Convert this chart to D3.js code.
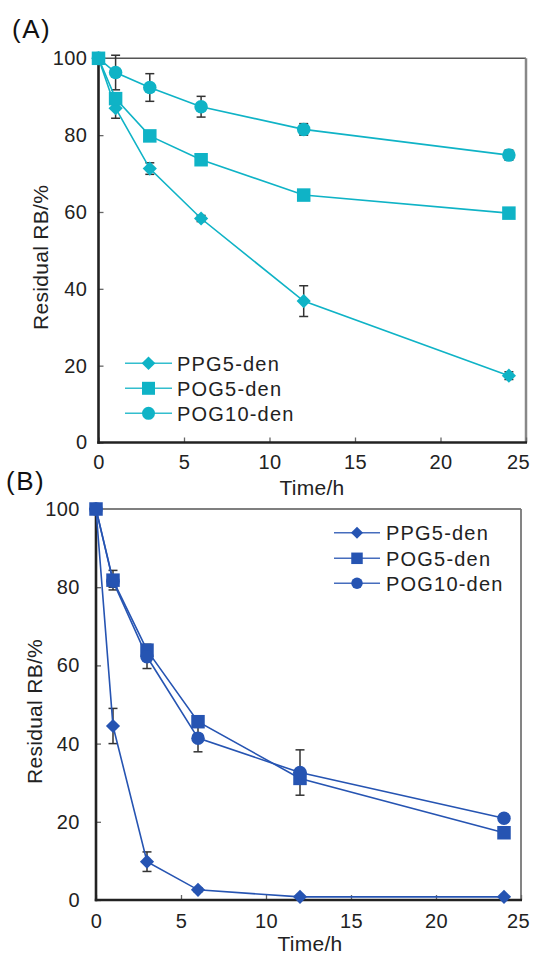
<!DOCTYPE html>
<html>
<head>
<meta charset="utf-8">
<script src="https://cdn.jsdelivr.net/npm/d3@7"></script>
<style>
  body { margin: 0; background: #fff; }
  svg { display: block; }
  text { font-family: "Liberation Sans", Arial, sans-serif; }
</style>
</head>
<body>
<div id="chart"></div>
<script>
// sampling times and labels
const hours = [0, 1, 3, 6, 12, 24];
const seriesNames = ['PPG5-den', 'POG5-den', 'POG10-den'];
const xTicks = [0, 5, 10, 15, 20, 25];
const yTicks = [0, 20, 40, 60, 80, 100];
const xTitle = 'Time/h';
const yTitle = 'Residual RB/%';

// panel (A) residual RB and error
const ppg5A = [100, 87, 71.3, 58.3, 36.8, 17.4];
const ppg5AErr = [0, 2.6, 1.5, 0.8, 4, 1];
const pog5A = [100, 89.5, 79.8, 73.6, 64.4, 59.7];
const pog5AErr = [0, 1.5, 0.8, 0.8, 0.8, 0.8];
const pog10A = [100, 96.3, 92.4, 87.4, 81.5, 74.8];
const pog10AErr = [0, 4.5, 3.6, 2.7, 1.5, 1.3];

// panel (B)
const ppg5B = [100, 44.5, 9.8, 2.6, 0.8, 0.8];
const ppg5BErr = [0, 4.5, 2.5, 0.5, 0.3, 0.3];
const pog5B = [100, 81.8, 63.9, 45.6, 31.1, 17.2];
const pog5BErr = [0, 2.5, 1.5, 1, 1.5, 1];
const pog10B = [100, 81.5, 62.2, 41.4, 32.6, 20.9];
const pog10BErr = [0, 1.5, 3, 3.5, 5.8, 1];

const shapes = ['diamond', 'square', 'circle'];

const panels = [
  {
    tag: '(A)', tagX: 12, tagY: 38,
    values: [ppg5A, pog5A, pog10A],
    errors: [ppg5AErr, pog5AErr, pog10AErr],
    color: '#0fb3c6',
    x: [98.5, 526], y: [442.5, 58.3],
    yPad: 11, xPad: 12.3, lastTickX: 518,
    yTitleX: 47.5, xTitleY: 495, xTitleX: 312,
    rightColor: '#888', rightWidth: 2.5,
    legend: { x0: 125, x1: 172, tx: 177, ys: [363.3, 388.3, 413.3], size: 13 },
    mk: 13.5
  },
  {
    tag: '(B)', tagX: 6, tagY: 490,
    values: [ppg5B, pog5B, pog10B],
    errors: [ppg5BErr, pog5BErr, pog10BErr],
    color: '#2654b2',
    x: [96, 521], y: [900, 509],
    yPad: 16, xPad: 13.8, lastTickX: 518,
    yTitleX: 41.5, xTitleY: 951, xTitleX: 310,
    rightColor: '#777', rightWidth: 1.8,
    legend: { x0: 334, x1: 380, tx: 386, ys: [532.7, 558.3, 583.3], size: 11.5 },
    mk: 13.5
  }
];

const width = 533;
const height = 954;

const svg = d3.select('#chart')
  .append('svg')
  .attr('width', width)
  .attr('height', height);

svg.append('rect').attr('width', width).attr('height', height).attr('fill', '#fff');

function marker(g, shape, cx, cy, size, color) {
  let path;
  if (shape === 'square') {
    path = d3.symbol(d3.symbolSquare, size * size)();
  } else if (shape === 'circle') {
    path = d3.symbol(d3.symbolCircle, Math.PI * (size / 2) * (size / 2))();
  } else {
    // rotated square
    const s = size / Math.SQRT2 * 1.05;
    path = d3.symbol(d3.symbolSquare, s * s)();
  }
  g.append('path')
    .attr('d', path)
    .attr('transform', `translate(${cx},${cy})` + (shape === 'diamond' ? ' rotate(45)' : ''))
    .attr('fill', color);
}

panels.forEach((p) => {
  const xScale = d3.scaleLinear().domain([0, 25]).range(p.x);
  const yScale = d3.scaleLinear().domain([0, 100]).range(p.y);
  const g = svg.append('g');

  // frame: top and right gray, left and bottom dark
  g.append('line')
    .attr('x1', xScale(0)).attr('x2', xScale(25))
    .attr('y1', yScale(100)).attr('y2', yScale(100))
    .attr('stroke', '#555').attr('stroke-width', 1.6);
  g.append('line')
    .attr('x1', xScale(25)).attr('x2', xScale(25))
    .attr('y1', yScale(100)).attr('y2', yScale(0))
    .attr('stroke', p.rightColor).attr('stroke-width', p.rightWidth);

  // axes
  const xAxis = d3.axisBottom(xScale).tickValues(xTicks).tickSizeInner(-5).tickSizeOuter(0).tickPadding(p.xPad);
  const yAxis = d3.axisLeft(yScale).tickValues(yTicks).tickSizeInner(-5).tickSizeOuter(0).tickPadding(p.yPad);

  const gx = g.append('g')
    .attr('transform', `translate(0,${yScale(0)})`)
    .call(xAxis);
  const gy = g.append('g')
    .attr('transform', `translate(${xScale(0)},0)`)
    .call(yAxis);

  [gx, gy].forEach((a) => {
    a.attr('font-family', '"Liberation Sans", Arial, sans-serif').attr('font-size', 20);
    a.select('.domain').remove();
    a.selectAll('.tick line').attr('stroke', '#666').attr('stroke-width', 1.3);
    a.selectAll('.tick text').attr('fill', '#222').style('letter-spacing', '0.5px');
  });

  // the last x label sits a little left of its tick, as in the figure
  gx.selectAll('.tick text')
    .filter((d) => d === 25)
    .attr('x', p.lastTickX - xScale(25));

  g.append('line')
    .attr('x1', xScale(0)).attr('x2', xScale(0))
    .attr('y1', yScale(100)).attr('y2', yScale(0) + 1.2)
    .attr('stroke', '#222').attr('stroke-width', 2.6);
  g.append('line')
    .attr('x1', xScale(0) - 1.2).attr('x2', xScale(25) + 1)
    .attr('y1', yScale(0)).attr('y2', yScale(0))
    .attr('stroke', '#222').attr('stroke-width', 2.6);

  // titles
  g.append('text')
    .attr('x', p.xTitleX).attr('y', p.xTitleY)
    .attr('text-anchor', 'middle')
    .attr('font-size', 21).attr('fill', '#222')
    .style('letter-spacing', '0.3px')
    .text(xTitle);
  g.append('text')
    .attr('transform', `translate(${p.yTitleX},${(yScale(0) + yScale(100)) / 2 + 7}) rotate(-90)`)
    .attr('text-anchor', 'middle')
    .attr('font-size', 21).attr('fill', '#222')
    .style('letter-spacing', '0.3px')
    .text(yTitle);
  g.append('text')
    .attr('x', p.tagX).attr('y', p.tagY)
    .attr('font-size', 26).attr('fill', '#111')
    .style('letter-spacing', '1.5px')
    .text(p.tag);

  const line = d3.line()
    .x((d, i) => xScale(hours[i]))
    .y((d) => yScale(d));

  // error bars
  const eg = g.append('g').attr('stroke', '#333').attr('stroke-width', 1.5);
  p.errors.forEach((errs, s) => {
    errs.forEach((e, i) => {
      if (!e) return;
      const cx = xScale(hours[i]);
      const y1 = yScale(p.values[s][i] + e);
      const y2 = yScale(p.values[s][i] - e);
      eg.append('line').attr('x1', cx).attr('x2', cx).attr('y1', y1).attr('y2', y2);
      eg.append('line').attr('x1', cx - 4.5).attr('x2', cx + 4.5).attr('y1', y1).attr('y2', y1);
      eg.append('line').attr('x1', cx - 4.5).attr('x2', cx + 4.5).attr('y1', y2).attr('y2', y2);
    });
  });

  // lines
  p.values.forEach((vals) => {
    g.append('path')
      .datum(vals)
      .attr('d', line)
      .attr('fill', 'none')
      .attr('stroke', p.color)
      .attr('stroke-width', 1.6);
  });

  // markers
  const mg = g.append('g');
  p.values.forEach((vals, s) => {
    vals.forEach((v, i) => marker(mg, shapes[s], xScale(hours[i]), yScale(v), p.mk, p.color));
  });

  // legend
  const lg = g.append('g');
  seriesNames.forEach((name, s) => {
    const ly = p.legend.ys[s];
    lg.append('line')
      .attr('x1', p.legend.x0).attr('x2', p.legend.x1)
      .attr('y1', ly).attr('y2', ly)
      .attr('stroke', p.color).attr('stroke-width', 1.6).attr('stroke-opacity', 0.85);
    marker(lg, shapes[s], (p.legend.x0 + p.legend.x1) / 2, ly, p.legend.size, p.color);
    lg.append('text')
      .attr('x', p.legend.tx).attr('y', ly)
      .attr('dy', '0.36em')
      .attr('font-size', 20).attr('fill', '#222')
      .style('letter-spacing', '1.2px')
      .text(name);
  });
});
</script>
</body>
</html>
